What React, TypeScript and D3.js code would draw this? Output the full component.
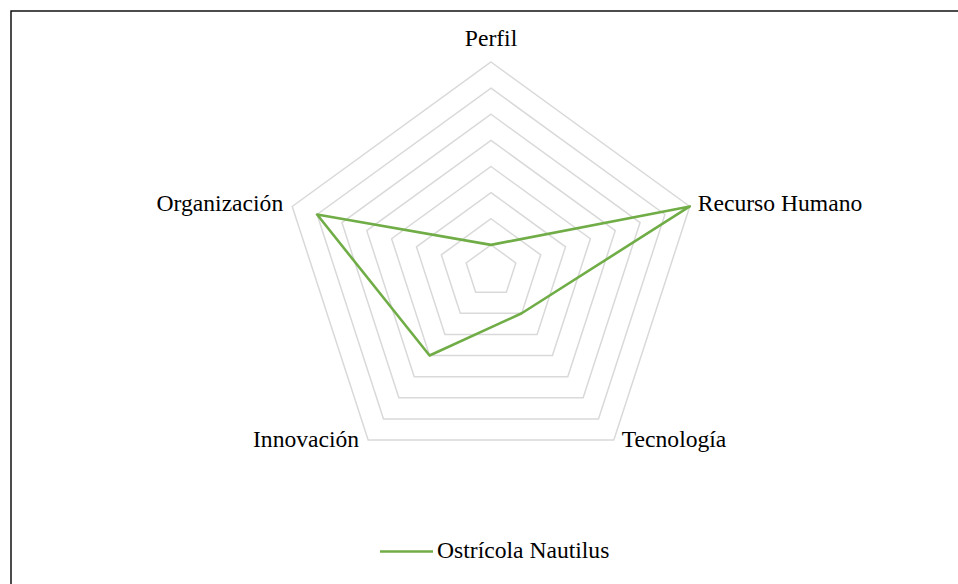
import React from "react";
import * as d3 from "d3";

const axes = ["Perfil", "Recurso Humano", "Tecnología", "Innovación", "Organización"];
const seriesName = "Ostrícola Nautilus";
const values = [1, 8, 2, 4, 7];
const ringLevels = [1, 2, 3, 4, 5, 6, 7, 8];

const W = 958;
const H = 584;
const cx = 491;
const cy = 271;
const R = 209;
const green = "#70ad47";
const font = "'Liberation Serif', 'Times New Roman', serif";
const fs = 23.6;

export default function App() {
  const r = d3.scaleLinear().domain([0, 8]).range([0, R]);
  const angle = (i: number) => (i * 2 * Math.PI) / axes.length;
  const pt = (i: number, v: number): [number, number] => [
    cx + r(v) * Math.sin(angle(i)),
    cy - r(v) * Math.cos(angle(i)),
  ];

  const closed = d3.line().curve(d3.curveLinearClosed);

  return (
    <svg
      width={W}
      height={H}
      style={{ position: "absolute", left: 0, top: 0, background: "#fff" }}
    >
      <rect x={11} y={11} width={2000} height={2000} fill="none" stroke="#000" strokeWidth={1.4} />
      <g fill="none" stroke="#d9d9d9" strokeWidth={1.5}>
        {ringLevels.map((lv) => (
          <path key={lv} d={closed(axes.map((_, i) => pt(i, lv))) || ""} />
        ))}
      </g>
      <path
        d={closed(values.map((v, i) => pt(i, v))) || ""}
        fill="none"
        stroke={green}
        strokeWidth={2.6}
        strokeLinejoin="round"
      />
      <g fontFamily={font} fontSize={fs} fill="#000">
        {axes.map((a, i) => {
          const [x, y] = pt(i, 8);
          const s = Math.sin(angle(i));
          if (Math.abs(s) < 0.01) {
            return (
              <text key={a} x={x} y={y - 16} textAnchor="middle">
                {a}
              </text>
            );
          }
          const below = Math.cos(angle(i)) < 0;
          return (
            <text
              key={a}
              x={x + (s > 0 ? 8 : -9)}
              y={y + (below ? 7 : 5)}
              textAnchor={s > 0 ? "start" : "end"}
            >
              {a}
            </text>
          );
        })}
      </g>
      <g>
        <line x1={380} x2={433} y1={551.5} y2={551.5} stroke={green} strokeWidth={2.6} />
        <text x={437} y={558} fontFamily={font} fontSize={fs} fill="#000">
          {seriesName}
        </text>
      </g>
    </svg>
  );
}
